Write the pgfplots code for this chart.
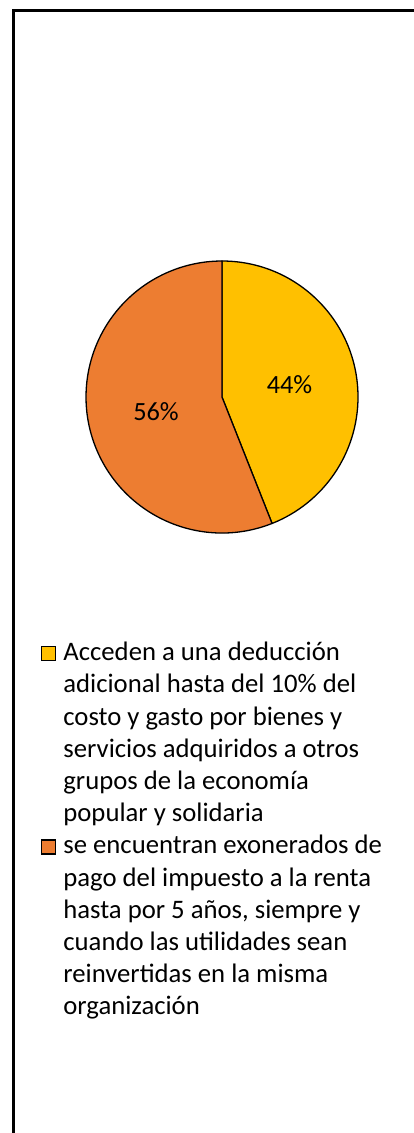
\documentclass[border=0pt]{standalone}
\usepackage{fontspec}
\setmainfont{Carlito}
\usepackage{pgfplots}
\usepackage{pgfplotstable}
\pgfplotsset{compat=1.18}
\definecolor{pieyellow}{HTML}{FFC000}
\definecolor{pieorange}{HTML}{ED7D31}
\pgfplotstableread{
value
44
56
}\piedata
\pgfplotstablegetelem{0}{value}\of\piedata\let\valA\pgfplotsretval
\pgfplotstablegetelem{1}{value}\of\piedata\let\valB\pgfplotsretval
\pgfmathsetmacro{\angA}{90-3.6*\valA}
\pgfmathsetmacro{\angB}{\angA-3.6*\valB}
\newcommand\ls{\rule[-9.7pt]{0pt}{32.2pt}}
\pgfplotsset{
  sqimg/.style={legend image code/.code={\draw[black, line width=1.2pt, fill=#1] (0pt,0pt) rectangle (14pt,14pt);}},
  noimg/.style={legend image code/.code={\path[draw=none, fill=none] (0pt,0pt) rectangle (14pt,14pt);}},
}
\begin{document}%
\begin{tikzpicture}
\begin{axis}[
  scale only axis, width=414pt, height=1133pt,
  xmin=0, xmax=414, ymin=0, ymax=1133, y dir=reverse,
  hide axis, clip=false,
  legend style={at={(axis cs:41,636)}, anchor=north west, draw=none, fill=none,
    inner sep=0pt, column sep=5pt, row sep=4.2pt,
    font=\fontsize{26.7}{32.2}\selectfont,
    cells={anchor=base west, inner sep=0pt}},
]
\coordinate (bbA) at (axis cs:0,1133);
\coordinate (bbB) at (axis cs:414,0);
% frame
\draw[line width=3pt] (axis cs:12,10.5) -- (axis cs:414,10.5);
\draw[line width=3pt] (axis cs:13.5,9) -- (axis cs:13.5,1133);
% pie slices
\filldraw[fill=pieyellow, draw=black, line width=1.3pt, line join=round]
  (axis cs:222,397) -- ++(90:136pt) arc[start angle=90, end angle=\angA, radius=136pt] -- cycle;
\filldraw[fill=pieorange, draw=black, line width=1.3pt, line join=round]
  (axis cs:222,397) -- ++(\angA:136pt) arc[start angle=\angA, end angle=\angB, radius=136pt] -- cycle;
\node[anchor=base, font=\fontsize{26.3}{32}\selectfont, inner sep=0pt] at (axis cs:289.5,393) {\valA\%};
\node[anchor=base, font=\fontsize{26.3}{32}\selectfont, inner sep=0pt] at (axis cs:156,420) {\valB\%};
\addlegendimage{sqimg=pieyellow}\addlegendentry{\ls Acceden a una deducción}
\addlegendimage{noimg}\addlegendentry{\ls adicional hasta del 10\% del}
\addlegendimage{noimg}\addlegendentry{\ls costo y gasto por bienes y}
\addlegendimage{noimg}\addlegendentry{\ls servicios adquiridos a otros}
\addlegendimage{noimg}\addlegendentry{\ls grupos de la economía}
\addlegendimage{noimg}\addlegendentry{\ls popular y solidaria\rule[-11.5pt]{0pt}{0pt}}
\addlegendimage{sqimg=pieorange}\addlegendentry{\ls se encuentran exonerados de}
\addlegendimage{noimg}\addlegendentry{\ls pago del impuesto a la renta}
\addlegendimage{noimg}\addlegendentry{\ls hasta por 5 años, siempre y}
\addlegendimage{noimg}\addlegendentry{\ls cuando las utilidades sean}
\addlegendimage{noimg}\addlegendentry{\ls reinvertidas en la misma}
\addlegendimage{noimg}\addlegendentry{\ls organización}
\end{axis}
\pgfresetboundingbox
\useasboundingbox (bbA) rectangle (bbB);
\end{tikzpicture}%
\end{document}
